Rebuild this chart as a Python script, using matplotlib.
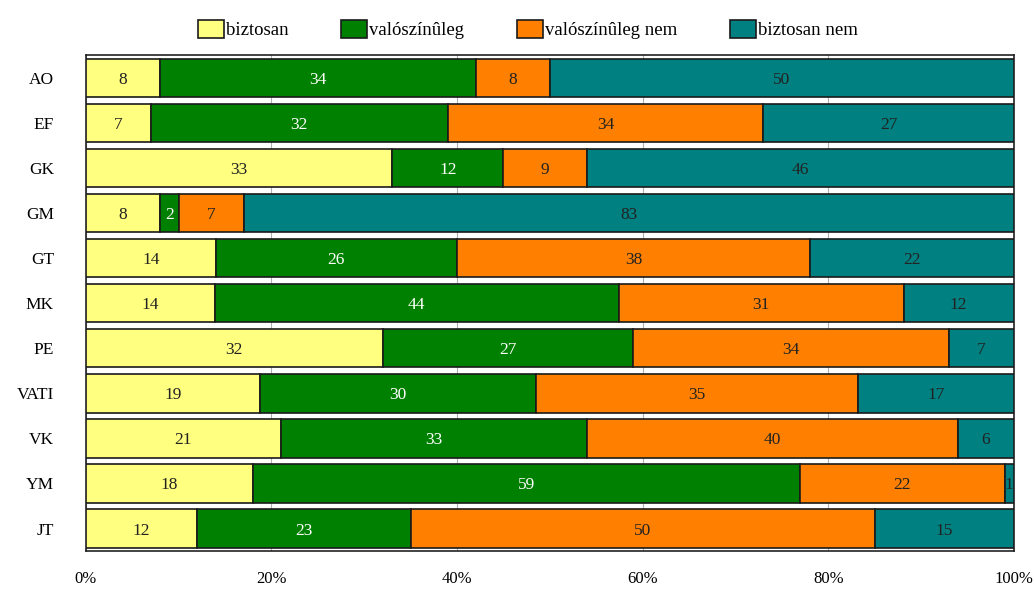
import numpy as np
import matplotlib.pyplot as plt

categories = ['AO', 'EF', 'GK', 'GM', 'GT', 'MK', 'PE', 'VATI', 'VK', 'YM', 'JT']
biztosan = [8, 7, 33, 8, 14, 14, 32, 19, 21, 18, 12]
valoszinuleg = [34, 32, 12, 2, 26, 44, 27, 30, 33, 59, 23]
valoszinuleg_nem = [8, 34, 9, 7, 38, 31, 34, 35, 40, 22, 50]
biztosan_nem = [50, 27, 46, 83, 22, 12, 7, 17, 6, 1, 15]

series = [
    ('biztosan', biztosan, '#FFFF80', '#222222'),
    ('valószínûleg', valoszinuleg, '#008000', 'white'),
    ('valószínûleg nem', valoszinuleg_nem, '#FF8000', '#222222'),
    ('biztosan nem', biztosan_nem, '#008080', '#222222'),
]

plt.rcParams['font.family'] = ['Liberation Serif', 'DejaVu Serif']

fig = plt.figure(figsize=(10.35, 5.9), dpi=100)
ax = fig.add_axes([0.083, 0.066, 0.8965, 0.84])

y = np.arange(len(categories))
totals = np.sum([s[1] for s in series], axis=0)
left = np.zeros(len(categories))
for name, vals, color, tcolor in series:
    pct = np.array(vals) / totals * 100
    ax.barh(y, pct, left=left, height=0.85, color=color, edgecolor='#1a1a1a',
            linewidth=1.2, label=name, zorder=3)
    for yi, l, p, v in zip(y, left, pct, vals):
        ax.text(l + p / 2, yi, str(v), ha='center', va='center_baseline', color=tcolor,
                fontsize=12.5, zorder=4)
    left += pct

ax.set_xlim(0, 100)
ax.set_ylim(len(categories) - 0.5, -0.5)
ax.set_yticks(y)
ax.set_yticklabels(categories, fontsize=12.5)
ax.set_xticks([0, 20, 40, 60, 80, 100])
ax.set_xticklabels(['0%', '20%', '40%', '60%', '80%', '100%'], fontsize=12)
ax.tick_params(axis='x', length=0, pad=14)
ax.tick_params(axis='y', length=0, pad=23)
ax.xaxis.grid(True, color='#b0b0b0', linewidth=0.8, zorder=0)
for sp in ax.spines.values():
    sp.set_color('#222222')
    sp.set_linewidth(1.2)

leg = fig.legend(loc='upper center', bbox_to_anchor=(0.51, 0.995), ncol=4, frameon=False,
                 fontsize=13.5, handlelength=1.4, handleheight=1.1, handletextpad=0.1,
                 columnspacing=2.8)

fig.savefig('out.png', dpi=100)
